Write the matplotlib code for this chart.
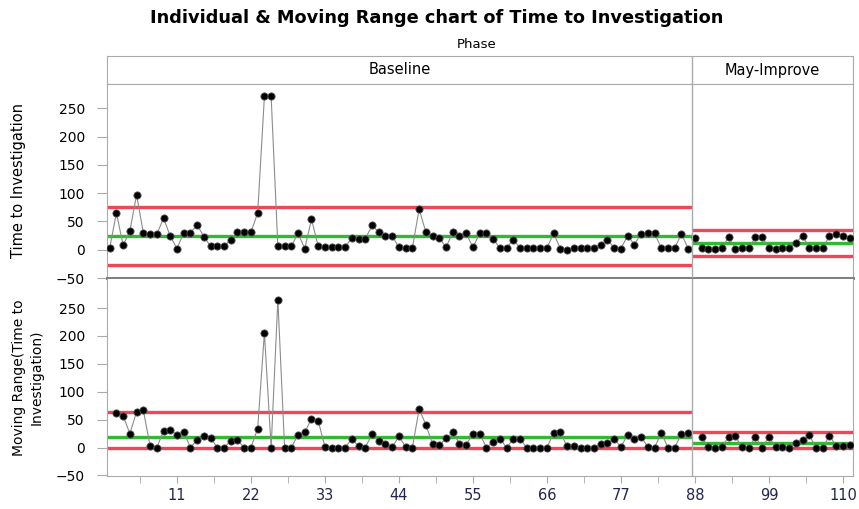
import numpy as np
import matplotlib
matplotlib.use('Agg')
import matplotlib.pyplot as plt

# Individual values
baseline_obs = list(range(1, 88))
baseline_vals = [3, 65, 8, 33, 97, 30, 27, 27, 56, 24,
                 2, 30, 30, 44, 23, 6, 6, 6, 18, 31,
                 31, 31, 65, 271, 271, 6, 6, 6, 29, 2,
                 54, 6, 5, 5, 5, 5, 21, 19, 19, 43,
                 31, 25, 24, 4, 3, 3, 72, 31, 25, 21,
                 4, 31, 24, 29, 4, 29, 29, 19, 3, 3,
                 18, 3, 3, 3, 3, 3, 29, 2, 0, 3,
                 3, 3, 3, 9, 18, 3, 2, 25, 9, 28,
                 29, 29, 3, 3, 3, 28, 2]
improve_obs = list(range(88, 112))
improve_vals = [21, 3, 2, 2, 3, 22, 2, 3, 3, 22,
                22, 3, 2, 3, 3, 12, 25, 3, 3, 3,
                24, 27, 25, 20]

# Moving ranges (first point of each phase has none)
baseline_mr_obs = list(range(2, 88))
baseline_mr = [62, 57, 25, 64, 67, 3, 0, 29, 32, 22,
               28, 0, 14, 21, 17, 0, 0, 12, 13, 0,
               0, 34, 206, 0, 265, 0, 0, 23, 27, 52,
               48, 1, 0, 0, 0, 16, 2, 0, 24, 12,
               6, 1, 20, 1, 0, 69, 41, 6, 4, 17,
               27, 7, 5, 25, 25, 0, 10, 16, 0, 15,
               15, 0, 0, 0, 0, 26, 27, 2, 3, 0,
               0, 0, 6, 9, 15, 1, 23, 16, 19, 1,
               0, 26, 0, 0, 25, 26]
improve_mr_obs = list(range(89, 112))
improve_mr = [18, 1, 0, 1, 19, 20, 1, 0, 19, 0,
              19, 1, 1, 0, 9, 13, 22, 0, 0, 21,
              3, 2, 5]

# control limits (LCL, center, UCL)
ind_limits = {'Baseline': (-27.7, 23.6, 74.9), 'May-Improve': (-11.5, 11.5, 34.5)}
mr_limits = {'Baseline': (0, 19.3, 63.0), 'May-Improve': (0, 8.6, 28.2)}

W, H = 859, 509
fig = plt.figure(figsize=(W / 100, H / 100), dpi=100)

def box(x0, y0, x1, y1):
    return [x0 / W, 1 - y1 / H, (x1 - x0) / W, (y1 - y0) / H]

xmin, xmax, split = 0.6, 111.5, 87.5
red, green = '#ee3345', '#2fba2f'
spine_c = '#aaaaaa'

ax_h = fig.add_axes(box(107, 56, 853, 84))
ax1 = fig.add_axes(box(107, 84, 853, 278))
ax2 = fig.add_axes(box(107, 279, 853, 476))

# header strip
ax_h.set_xlim(xmin, xmax)
ax_h.set_ylim(0, 1)
ax_h.set_xticks([])
ax_h.set_yticks([])
for s in ax_h.spines.values():
    s.set_color(spine_c)
ax_h.axvline(split, color=spine_c, lw=1)
ax_h.text((xmin + split) / 2, 0.5, 'Baseline', ha='center', va='center', fontsize=10.5)
ax_h.text((split + xmax) / 2, 0.5, 'May-Improve', ha='center', va='center', fontsize=10.5)


def draw(ax, xb, yb, xi, yi, lims):
    for (lo, c, hi), (a, b) in zip([lims['Baseline'], lims['May-Improve']], [(xmin, split), (split, xmax)]):
        ax.hlines([lo, hi], a, b, colors=red, lw=2.4, alpha=0.9)
        ax.hlines(c, a, b, colors=green, lw=2.4)
    for x, y in [(xb, yb), (xi, yi)]:
        ax.plot(x, y, color='#8c8c8c', lw=0.8, zorder=3)
        ax.plot(x, y, 'o', ms=5.2, mfc='black', mec='#555555', mew=0.6, zorder=4)
    ax.axvline(split, color=spine_c, lw=1, zorder=5)
    ax.set_xlim(xmin, xmax)
    ax.set_yticks([-50, 0, 50, 100, 150, 200, 250])
    ax.tick_params(axis='y', labelsize=10, length=7, color=spine_c, pad=9)
    for s in ax.spines.values():
        s.set_color(spine_c)


draw(ax1, baseline_obs, baseline_vals, improve_obs, improve_vals, ind_limits)
ax1.set_ylim(-50, 293)
ax1.set_xticks([])
ax1.spines['bottom'].set_color('#808080')
ax1.spines['bottom'].set_linewidth(2.2)

draw(ax2, baseline_mr_obs, baseline_mr, improve_mr_obs, improve_mr, mr_limits)
ax2.set_ylim(-51, 302)
ax2.spines['top'].set_visible(False)
ax2.set_xticks([11, 22, 33, 44, 55, 66, 77, 88, 99, 110])
ax2.set_xticks([5.5, 16.5, 27.5, 38.5, 49.5, 60.5, 71.5, 82.5, 93.5, 104.5], minor=True)
ax2.tick_params(axis='x', which='both', length=5, color=spine_c, labelsize=10.5,
                labelcolor='#22264e', pad=4)

ax1.set_ylabel('Time to Investigation', fontsize=10.5, va='center')
ax2.set_ylabel('Moving Range(Time to\nInvestigation)', fontsize=10, va='center',
               linespacing=1.35)
ax1.yaxis.set_label_coords((19 - 107) / 746, 0.5)
ax2.yaxis.set_label_coords((28 - 107) / 746, 0.5)

fig.text(437 / W, 1 - 18 / H, 'Individual & Moving Range chart of Time to Investigation',
         ha='center', va='center', fontsize=12.8, fontweight='bold')
fig.text(477 / W, 1 - 45 / H, 'Phase', ha='center', va='center', fontsize=9.5)

plt.savefig('out.png', dpi=100)
